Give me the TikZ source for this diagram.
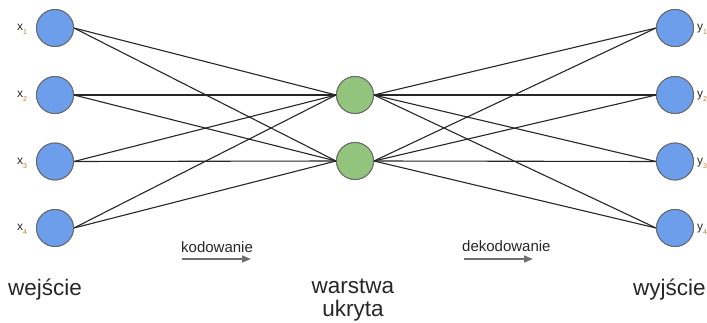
\documentclass[tikz,border=0pt]{standalone}
\usepackage{fontspec}
\setmainfont{Liberation Sans}
\usetikzlibrary{arrows.meta}
\definecolor{inblue}{HTML}{6D9EEB}
\definecolor{hidgreen}{HTML}{93C47D}
\definecolor{rimgray}{HTML}{666666}
\definecolor{txt}{HTML}{262626}
\definecolor{subc}{HTML}{C27A36}
\definecolor{arrgray}{HTML}{707070}
\tikzset{
  neuron/.style={circle, draw=rimgray, line width=0.9pt, minimum size=37pt, inner sep=0pt},
  innode/.style={neuron, fill=inblue},
  hidnode/.style={neuron, fill=hidgreen},
  link/.style={draw=black!85, line width=1.1pt},
  varlab/.style={text=txt, font=\fontsize{12}{12}\selectfont, inner sep=0pt, anchor=base west},
  bigtext/.style={text=txt, font=\fontsize{22.5}{23}\selectfont, inner sep=0pt, align=center},
  smalltext/.style={text=txt, font=\fontsize{15}{15}\selectfont, inner sep=0pt, anchor=base west},
  flowarrow/.style={draw=arrgray, line width=1.6pt, -{Triangle[length=9pt,width=7pt]}}
}
\newcommand{\lbl}[2]{#1\raisebox{-4pt}{\textcolor{subc}{\fontsize{7}{7}\selectfont #2}}}
\begin{document}
\begin{tikzpicture}[x=1pt,y=-1pt]
\useasboundingbox (0,0) rectangle (707,323);
% input nodes
\node[innode] (x1) at (55,28) {};
\node[innode] (x2) at (55,95) {};
\node[innode] (x3) at (55,161.5) {};
\node[innode] (x4) at (55,228) {};
% hidden
\node[hidnode] (h1) at (355,95) {};
\node[hidnode] (h2) at (355,161) {};
% outputs
\node[innode] (y1) at (675,28) {};
\node[innode] (y2) at (675,95) {};
\node[innode] (y3) at (675,161.5) {};
\node[innode] (y4) at (675,228) {};
% links
\foreach \i in {1,2,3,4}{
  \foreach \h in {1,2}{
    \draw[link] (x\i.east) -- (h\h.west);
    \draw[link] (h\h.east) -- (y\i.west);
  }
}
% redraw nodes on top
\foreach \n in {x1,x2,x3,x4,y1,y2,y3,y4}{
  \node[innode] at (\n) {};
}
\node[hidnode] at (h1) {};
\node[hidnode] at (h2) {};
% labels
\node[varlab] (lx1) at (17,31) {\lbl{x}{1}};
\node[varlab] (lx2) at (17,98) {\lbl{x}{2}};
\node[varlab] (lx3) at (17,164.5) {\lbl{x}{3}};
\node[varlab] (lx4) at (17,231) {\lbl{x}{4}};
\node[varlab] (ly1) at (697,31) {\lbl{y}{1}};
\node[varlab] (ly2) at (697,98) {\lbl{y}{2}};
\node[varlab] (ly3) at (697,164.5) {\lbl{y}{3}};
\node[varlab] (ly4) at (697,231) {\lbl{y}{4}};
% flow
\node[smalltext] (kod) at (181,252.5) {kodowanie};
\coordinate (k1) at (182,259);
\coordinate (k2) at (251,259);
\draw[flowarrow] (k1) -- (k2);
\node[smalltext] (dek) at (462,251.5) {dekodowanie};
\coordinate (d1) at (464,259);
\coordinate (d2) at (533,259);
\draw[flowarrow] (d1) -- (d2);
% bottom texts
\node[bigtext, anchor=base west] (we) at (8,295) {wejście};
\node[bigtext, anchor=base] (wa) at (353,316.5) {warstwa\\ukryta};
\node[bigtext, anchor=base west] (wy) at (633,295) {wyjście};
\end{tikzpicture}
\end{document}
